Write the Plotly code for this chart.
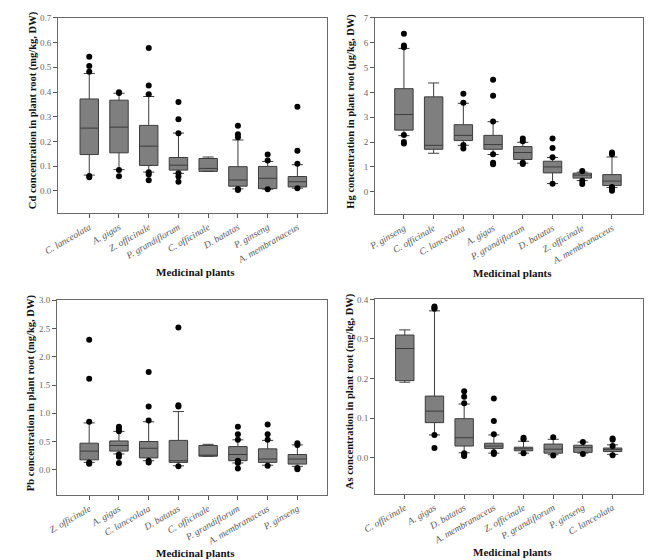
import plotly.graph_objects as go

# ---------------- Cd ----------------
cd_cats = ["C. lanceolata", "A. gigas", "Z. officinale", "P. grandiflorum",
           "C. officinale", "D. batatas", "P. ginseng", "A. membranaceus"]
cd_q1 = [0.147, 0.154, 0.103, 0.084, 0.079, 0.019, 0.009, 0.016]
cd_med = [0.254, 0.258, 0.181, 0.104, 0.091, 0.044, 0.051, 0.037]
cd_q3 = [0.372, 0.367, 0.265, 0.135, 0.131, 0.098, 0.099, 0.058]
cd_lo = [0.064, 0.086, 0.076, 0.071, 0.079, 0.008, 0.007, 0.011]
cd_hi = [0.475, 0.395, 0.382, 0.234, 0.137, 0.206, 0.119, 0.106]
cd_out = [[0.543, 0.505, 0.482, 0.060, 0.055],
          [0.399, 0.396, 0.084, 0.059],
          [0.578, 0.426, 0.391, 0.075, 0.066, 0.043],
          [0.360, 0.290, 0.233, 0.071, 0.058, 0.037],
          [],
          [0.264, 0.229, 0.217, 0.008, 0.004],
          [0.147, 0.123, 0.007],
          [0.340, 0.162, 0.110, 0.011]]

# ---------------- Hg ----------------
hg_cats = ["P. ginseng", "C. officinale", "C. lanceolata", "A. gigas",
           "P. grandiflorum", "D. batatas", "Z. officinale", "A. membranaceus"]
hg_q1 = [2.48, 1.71, 2.06, 1.71, 1.30, 0.76, 0.55, 0.25]
hg_med = [3.11, 1.87, 2.27, 1.90, 1.58, 1.00, 0.67, 0.43]
hg_q3 = [4.15, 3.82, 2.70, 2.27, 1.82, 1.23, 0.75, 0.69]
hg_lo = [2.26, 1.55, 1.87, 1.50, 1.15, 0.33, 0.45, 0.17]
hg_hi = [5.77, 4.38, 3.56, 2.82, 1.99, 1.38, 0.79, 1.40]
hg_out = [[6.36, 5.89, 5.82, 2.28, 2.00, 1.94],
          [],
          [3.95, 3.58, 1.88, 1.74],
          [4.51, 3.87, 2.83, 1.51, 1.17, 1.11],
          [2.14, 2.03, 1.17, 1.12],
          [2.14, 1.76, 1.39, 0.32],
          [0.84, 0.44, 0.31],
          [1.58, 1.51, 0.19, 0.12, 0.04]]

# ---------------- Pb ----------------
pb_cats = ["Z. officinale", "A. gigas", "C. lanceolata", "D. batatas",
           "C. officinale", "P. grandiflorum", "A. membranaceus", "P. ginseng"]
pb_q1 = [0.175, 0.33, 0.21, 0.13, 0.24, 0.16, 0.13, 0.10]
pb_med = [0.33, 0.43, 0.38, 0.16, 0.245, 0.27, 0.19, 0.19]
pb_q3 = [0.47, 0.51, 0.50, 0.52, 0.43, 0.41, 0.37, 0.27]
pb_lo = [0.13, 0.28, 0.16, 0.07, 0.24, 0.12, 0.08, 0.06]
pb_hi = [0.83, 0.68, 0.85, 1.03, 0.45, 0.53, 0.52, 0.44]
pb_out = [[2.30, 1.61, 0.85, 0.13, 0.105],
          [0.76, 0.73, 0.68, 0.27, 0.23, 0.12],
          [1.73, 1.12, 0.87, 0.16, 0.13],
          [2.52, 1.14, 1.12, 0.064],
          [],
          [0.76, 0.63, 0.53, 0.16, 0.12, 0.02],
          [0.80, 0.63, 0.53, 0.07],
          [0.47, 0.44, 0.03, 0.01]]

# ---------------- As ----------------
as_cats = ["C. officinale", "A. gigas", "D. batatas", "A. membranaceus",
           "Z. officinale", "P. grandiflorum", "P. ginseng", "C. lanceolata"]
as_q1 = [0.195, 0.089, 0.030, 0.024, 0.018, 0.012, 0.014, 0.016]
as_med = [0.276, 0.118, 0.051, 0.030, 0.023, 0.022, 0.026, 0.021]
as_q3 = [0.310, 0.156, 0.099, 0.037, 0.027, 0.035, 0.032, 0.025]
as_lo = [0.191, 0.058, 0.013, 0.012, 0.012, 0.008, 0.012, 0.009]
as_hi = [0.323, 0.371, 0.136, 0.058, 0.042, 0.047, 0.040, 0.033]
as_out = [[],
          [0.382, 0.378, 0.376, 0.058, 0.025],
          [0.168, 0.154, 0.138, 0.012, 0.008, 0.005],
          [0.150, 0.093, 0.060, 0.014, 0.010],
          [0.051, 0.047, 0.012],
          [0.052, 0.006],
          [0.040, 0.010],
          [0.049, 0.046, 0.030, 0.007]]

y_titles = ["Cd concentration in plant root (mg/kg, DW)",
            "Hg concentration in plant root (μg/kg, DW)",
            "Pb concentration in plant root (mg/kg, DW)",
            "As concentration in plant root (mg/kg, DW)"]
x_title = "Medicinal plants"

panels = [
    (cd_cats, cd_q1, cd_med, cd_q3, cd_lo, cd_hi, cd_out, [-0.09, 0.7], 0.1, ".1f", [-1.05, 8.0]),
    (hg_cats, hg_q1, hg_med, hg_q3, hg_lo, hg_hi, hg_out, [-0.9, 7], 1, "d", [-0.97, 8.05]),
    (pb_cats, pb_q1, pb_med, pb_q3, pb_lo, pb_hi, pb_out, [-0.44, 3.0], 0.5, ".1f", [-1.08, 8.0]),
    (as_cats, as_q1, as_med, as_q3, as_lo, as_hi, as_out, [-0.09, 0.4], 0.1, ".1f", [-1.0, 8.03]),
]

W, H = 652, 560
# plot areas in pixels: (x0, x1, ytop, ybottom)
boxes_px = [(45, 320, 13, 210), (369, 643, 13, 211), (44, 320, 298, 494), (369, 643, 297, 493)]
ytitle_x = [19, 344, 17, 343]

fig = go.Figure()
SERIF = "Liberation Serif, Times New Roman, serif"
layout = {}
annotations = []
for i, (cats, q1, med, q3, lo, hi, outs, yr, dt, fmt, xr) in enumerate(panels):
    n = i + 1
    xa = "x" if n == 1 else f"x{n}"
    ya = "y" if n == 1 else f"y{n}"
    fig.add_trace(go.Box(
        x=cats, q1=q1, median=med, q3=q3, lowerfence=lo, upperfence=hi,
        xaxis=xa, yaxis=ya, fillcolor="#7f7f7f",
        line=dict(color="#3c3c3c", width=1), width=0.62, whiskerwidth=0.6,
        boxpoints=False, showlegend=False, hoverinfo="y",
    ))
    ox, oy = [], []
    for c, vals in zip(cats, outs):
        for v in vals:
            ox.append(c)
            oy.append(v)
    fig.add_trace(go.Scatter(
        x=ox, y=oy, mode="markers", xaxis=xa, yaxis=ya,
        marker=dict(color="black", size=6), showlegend=False,
    ))
    x0, x1, yt, yb = boxes_px[i]
    kx = "xaxis" if n == 1 else f"xaxis{n}"
    ky = "yaxis" if n == 1 else f"yaxis{n}"
    layout[kx] = dict(
        domain=[x0 / W, x1 / W], anchor=ya, type="category",
        categoryorder="array", categoryarray=cats, range=xr,
        showline=True, linecolor="#6a6a6a", linewidth=1, mirror=True,
        ticks="outside", ticklen=4, tickcolor="#555", tickangle=-30,
        tickfont=dict(family=SERIF, size=9.5, color="#555", style="italic"),
        showgrid=False, zeroline=False, fixedrange=True,
    )
    layout[ky] = dict(
        domain=[1 - yb / H, 1 - yt / H], anchor=xa, range=yr,
        tick0=0, dtick=dt, tickformat=fmt,
        showline=True, linecolor="#6a6a6a", linewidth=1, mirror=True,
        ticks="outside", ticklen=4, tickcolor="#555",
        tickfont=dict(family=SERIF, size=9, color="#666"),
        showgrid=False, zeroline=False, fixedrange=True,
    )
    # y title
    annotations.append(dict(
        text=f"<b>{y_titles[i]}</b>", textangle=-90, showarrow=False,
        xref="paper", yref="paper",
        x=ytitle_x[i] / W, y=1 - ((yt + yb) / 2 - 5) / H,
        xanchor="center", yanchor="middle",
        font=dict(family=SERIF, size=10.5, color="#111"),
    ))
    annotations.append(dict(
        text=f"<b>{x_title}</b>", showarrow=False,
        xref="paper", yref="paper",
        x=((x0 + x1) / 2 + 3) / W, y=1 - (yb + 59) / H,
        xanchor="center", yanchor="middle",
        font=dict(family=SERIF, size=11, color="#111"),
    ))

fig.update_layout(
    width=W, height=H, margin=dict(l=0, r=0, t=0, b=0),
    paper_bgcolor="white", plot_bgcolor="white",
    annotations=annotations, **layout,
)
fig.write_html("out.html")
